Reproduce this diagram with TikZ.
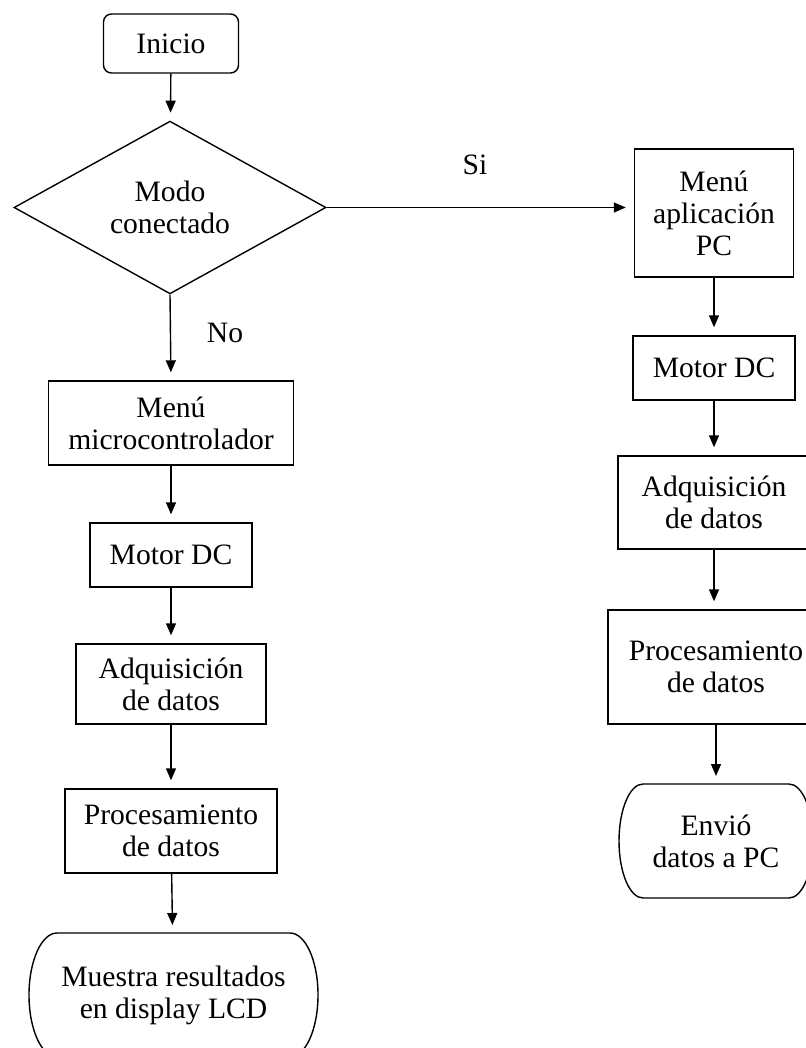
\documentclass[tikz,border=0pt]{standalone}
\usepackage{fontspec}
\setmainfont{Liberation Serif}
\usepackage{tikz}
\usetikzlibrary{arrows.meta,shapes.geometric}
\newcommand{\terminal}[3]{\draw ([xshift=#2]#1.north west) -- ([xshift=-#2]#1.north east) arc[start angle=90,end angle=-90,x radius=#2,y radius=#3] -- ([xshift=#2]#1.south west) arc[start angle=270,end angle=90,x radius=#2,y radius=#3] -- cycle;}

\begin{document}
\begin{tikzpicture}[x=0.5pt, y=-0.5pt, line width=0.7pt,
    every node/.style={font=\fontsize{14.8}{16}\selectfont},
    proc/.style={draw, align=center, inner sep=2pt},
    decision/.style={draw, diamond, align=center, inner sep=0pt},
    endnode/.style={align=center, inner sep=2pt, outer sep=0pt},
    flow/.style={-{Triangle[width=5pt,length=6pt]}, shorten >=4pt}]
      \clip (0,0) rectangle (806,1048);
      \node[proc, rounded corners=4pt, minimum width=67.5pt, minimum height=29.5pt] (inicio) at (171,43.5) {Inicio};
      \node[decision, minimum width=156pt, minimum height=79.5pt] (modo) at (170,207.5) {Modo\\conectado};
      \node[proc, minimum width=122.5pt, minimum height=42pt] (micro) at (171,423) {Menú\\microcontrolador};
      \node[proc, minimum width=81pt, minimum height=32pt] (motorL) at (171,555) {Motor DC};
      \node[proc, minimum width=95pt, minimum height=40pt] (adqL) at (171,684) {Adquisición\\de datos};
      \node[proc, minimum width=106pt, minimum height=42pt] (procL) at (171,831) {Procesamiento\\de datos};
      \node[endnode, minimum width=144.5pt, minimum height=62pt] (muestra) at (173.5,995) {Muestra resultados\\en display LCD};
      \node[proc, minimum width=79.5pt, minimum height=64pt] (menuPC) at (714,213) {Menú\\aplicación\\PC};
      \node[proc, minimum width=81pt, minimum height=32pt] (motorR) at (714,368) {Motor DC};
      \node[proc, minimum width=96pt, minimum height=46.5pt] (adqR) at (714,502.5) {Adquisición\\de datos};
      \node[proc, minimum width=108pt, minimum height=57pt] (procR) at (716,667) {Procesamiento\\de datos};
      \node[endnode, minimum width=97pt, minimum height=57pt] (envio) at (716,841) {Envió\\datos a PC};
      \terminal{muestra}{14pt}{31pt}
      \terminal{envio}{12pt}{28.5pt}
      \node (si) at (475,165) {Si};
      \node (no) at (225,333) {No};
      \path[flow] (inicio) edge (modo);
      \path[flow] (modo.east) edge (modo.east -| menuPC.west);
      \path[flow] (modo.south) edge (micro.north);
      \path[flow] (micro) edge (motorL);
      \path[flow] (motorL) edge (adqL);
      \path[flow] (adqL) edge (procL);
      \path[flow] (procL) edge (muestra);
      \path[flow] (menuPC) edge (motorR);
      \path[flow] (motorR) edge (adqR);
      \path[flow] (adqR.south) edge (adqR.south |- procR.north);
      \path[flow] (procR) edge (envio);
    \end{tikzpicture}
\end{document}
